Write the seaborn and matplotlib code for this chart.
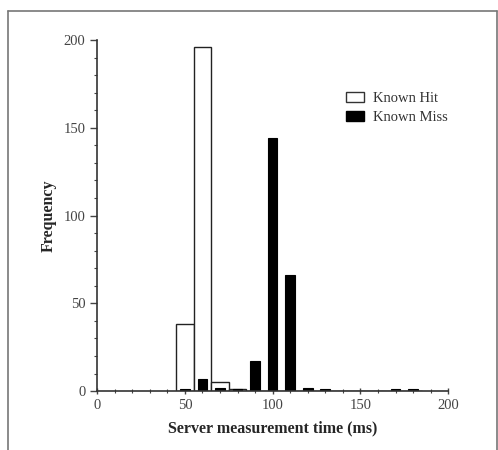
import numpy as np
import matplotlib
matplotlib.use("Agg")
import matplotlib.pyplot as plt
import seaborn as sns
from matplotlib.patches import Patch
from matplotlib.lines import Line2D
from matplotlib.ticker import MultipleLocator

# bin centres (ms) and counts
bin_centres = [50, 60, 70, 80, 90, 100, 110, 120, 130, 140, 150, 160, 170, 180]
known_hit = [38, 196, 5, 1, 0, 0, 0, 0, 0, 0, 0, 0, 0, 0]
known_miss = [1, 7, 2, 1, 17, 144, 66, 2, 1, 0, 0, 0, 1, 1]
bin_edges = [45, 55, 65, 75, 85, 95, 105, 115, 125, 135, 145, 155, 165, 175, 185]

sns.set_style("ticks")
plt.rcParams['font.family'] = ['Liberation Serif', 'DejaVu Serif']

fig = plt.figure(figsize=(4.98, 4.5), dpi=100)
ax = fig.add_axes([0.195, 0.131, 0.705, 0.780])

sns.histplot(x=bin_centres, weights=known_hit, bins=bin_edges, ax=ax,
             color="white", edgecolor="#222222", linewidth=1.0, alpha=1, shrink=1.0)
sns.histplot(x=bin_centres, weights=known_miss, bins=bin_edges, ax=ax,
             color="black", edgecolor="black", linewidth=0.8, alpha=1, shrink=0.55)

ax.set_xlim(0, 200)
ax.set_ylim(0, 200)
ax.xaxis.set_major_locator(MultipleLocator(50))
ax.xaxis.set_minor_locator(MultipleLocator(10))
ax.yaxis.set_major_locator(MultipleLocator(50))
ax.yaxis.set_minor_locator(MultipleLocator(10))
ax.tick_params(which="major", direction="out", length=5, width=1, labelsize=10.5, colors="#444444")
ax.tick_params(which="minor", direction="out", length=2.5, width=0.8, colors="#444444")
ax.tick_params(axis="x", which="both", direction="inout")
for s in ["top", "right"]:
    ax.spines[s].set_visible(False)
for s in ["left", "bottom"]:
    ax.spines[s].set_linewidth(1.2)
    ax.spines[s].set_color("#333333")

ax.set_xlabel("Server measurement time (ms)", fontsize=11.5, fontweight="bold", labelpad=6)
ax.set_ylabel("Frequency", fontsize=11.5, fontweight="bold", labelpad=5)

handles = [Patch(facecolor="white", edgecolor="#333333", label="Known Hit"),
           Patch(facecolor="black", edgecolor="black", label="Known Miss")]
ax.legend(handles=handles, loc="upper right", bbox_to_anchor=(1.035, 0.89),
          frameon=False, fontsize=10.5, handlelength=1.2, handleheight=0.7,
          handletextpad=0.6, labelspacing=0.4, labelcolor="#333333")

# grey border around the picture
border = dict(color="#777777", linewidth=1.2, transform=fig.transFigure)
fig.add_artist(Line2D([0.016, 0.998], [0.976, 0.976], **border))
fig.add_artist(Line2D([0.016, 0.016], [0.0, 0.976], **border))
fig.add_artist(Line2D([0.998, 0.998], [0.0, 0.976], **border))

fig.savefig("out.png", dpi=100)
